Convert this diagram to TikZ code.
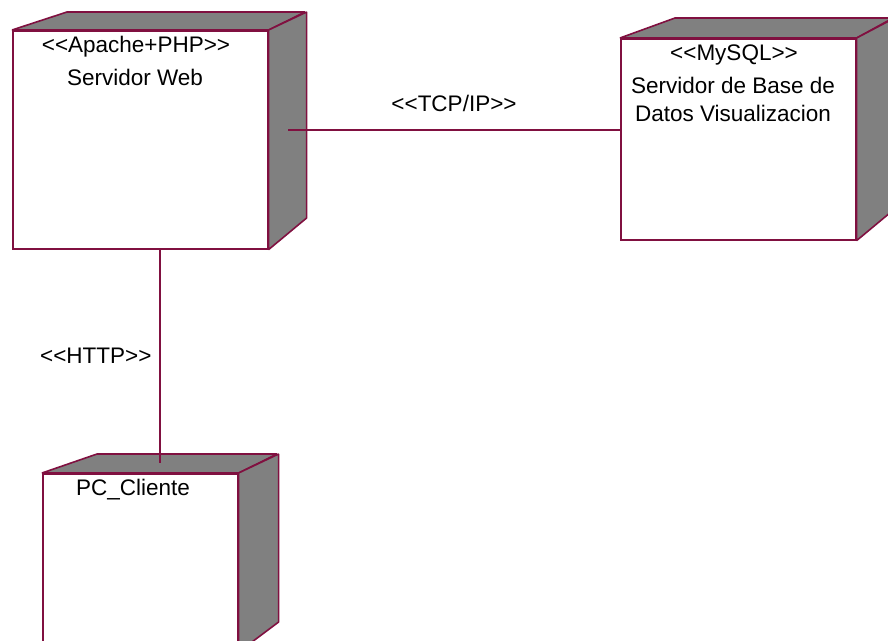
\documentclass[tikz,border=0pt]{standalone}
\usepackage{fontspec}
\setmainfont{Liberation Sans}
\definecolor{umlred}{RGB}{128,16,64}
\definecolor{umlgray}{RGB}{128,128,128}
\tikzset{
  front/.style={draw=umlred, fill=white, line width=1.6pt, inner sep=0pt, anchor=north west},
  side/.style={draw=umlred, fill=umlgray, line width=1.6pt, line join=bevel},
  conn/.style={draw=umlred, line width=1.2pt},
  lbl/.style={font=\fontsize{22.5}{28}\selectfont, text=black, inner sep=0pt, align=center}
}
\newcommand{\ltlt}{{<}{<}}
\newcommand{\gtgt}{{>}{>}}
\begin{document}
\begin{tikzpicture}[x=1pt,y=-1pt]
\useasboundingbox (0,0) rectangle (888,640);
\clip (0,0) rectangle (888,640);
\fill[white] (0,0) rectangle (888,640);
% Servidor Web
\node[front, minimum width=255pt, minimum height=218pt] (web) at (12,30) {};
\path[side] (web.north west) -- ++(55,-18) -- ++(238,0) -- (web.north east) -- cycle;
\path[side] (web.north east) -- ++(38,-18) -- ++(0,206) -- (web.south east) -- cycle;
% MySQL
\node[front, minimum width=235pt, minimum height=201pt] (db) at (620,38) {};
\path[side] (db.north west) -- ++(55,-20) -- ++(218,0) -- (db.north east) -- cycle;
\path[side] (db.north east) -- ++(38,-20) -- ++(0,191) -- (db.south east) -- cycle;
% PC Cliente
\node[front, minimum width=195pt, minimum height=200pt] (cli) at (42,473) {};
\path[side] (cli.north west) -- ++(55,-19) -- ++(180,0) -- (cli.north east) -- cycle;
\path[side] (cli.north east) -- ++(40,-19) -- ++(0,168) -- ++(-40,30) -- cycle;
% labels
\node[lbl] (webst) at (136,47) {\ltlt Apache+PHP\gtgt};
\node[lbl] (webnm) at (135,77) {Servidor Web};
\node[lbl] (dbst) at (734,55) {\ltlt MySQL\gtgt};
\node[lbl] (dbnm) at (733,99) {Servidor de Base de\\Datos Visualizacion};
\node[lbl] (clinm) at (133,490) {PC\_Cliente};
% connectors
\coordinate (webR) at (288,130);
\coordinate (cliT) at (160,463);
\draw[conn] (webR) -- (db.west |- webR) node[midway, lbl, above=18pt] (tcp) {\ltlt TCP/IP\gtgt};
\draw[conn] (web.south -| cliT) -- (cliT);
\node[lbl, anchor=west] (http) at (40,356) {\ltlt HTTP\gtgt};
\end{tikzpicture}
\end{document}
